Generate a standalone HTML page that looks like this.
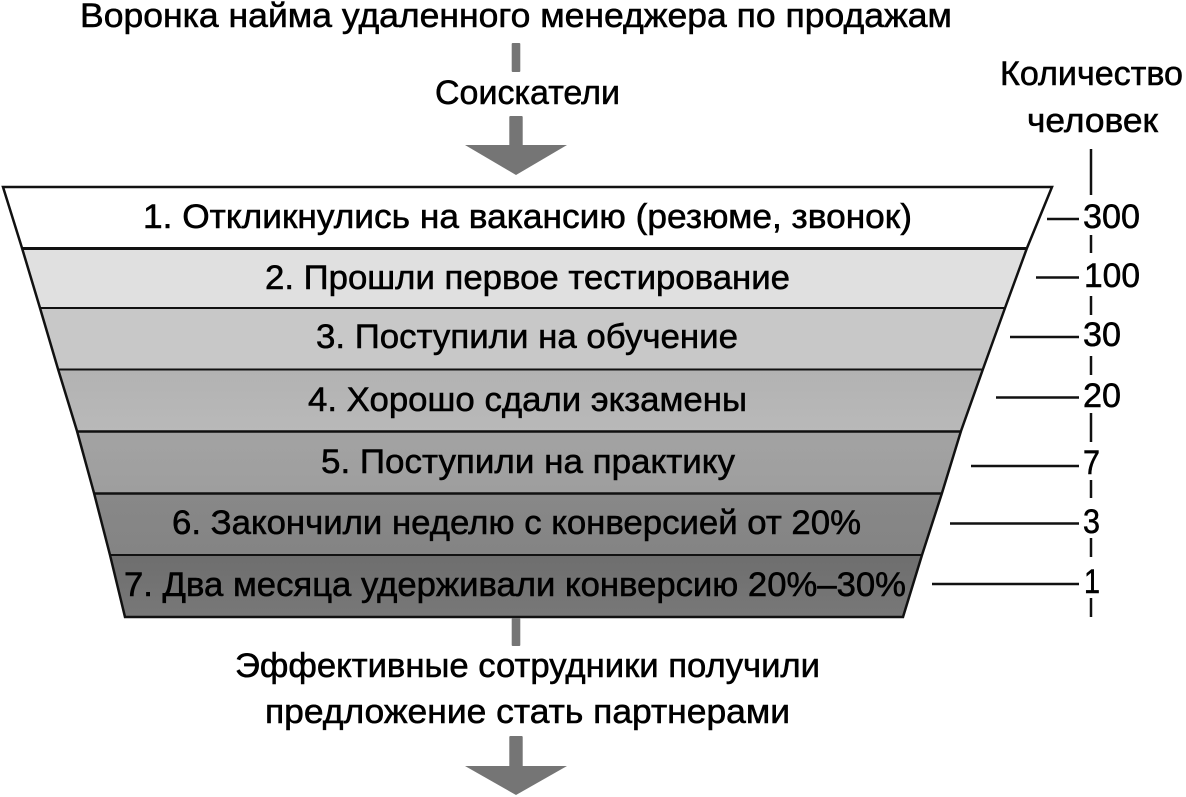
<!DOCTYPE html>
<html lang="ru">
<head>
<meta charset="utf-8">
<title>Воронка найма</title>
<style>
html,body{margin:0;padding:0;background:#fff;width:1186px;height:797px;overflow:hidden}
svg{display:block}
text{font-family:"Liberation Sans","DejaVu Sans",sans-serif;font-size:34px;fill:#000;stroke:#000;stroke-width:.55px}
</style>
</head>
<body>
<svg width="1186" height="797" viewBox="0 0 1186 797" xmlns="http://www.w3.org/2000/svg">
<defs>
<linearGradient id="g4" x1="0" y1="0" x2="0" y2="1"><stop offset="0" stop-color="#b2b2b2"/><stop offset="1" stop-color="#b9b9b9"/></linearGradient>
<linearGradient id="g5" x1="0" y1="0" x2="0" y2="1"><stop offset="0" stop-color="#a3a3a3"/><stop offset="1" stop-color="#9e9e9e"/></linearGradient>
<linearGradient id="g6" x1="0" y1="0" x2="0" y2="1"><stop offset="0" stop-color="#888888"/><stop offset="1" stop-color="#848484"/></linearGradient>
<linearGradient id="g7" x1="0" y1="0" x2="0" y2="1"><stop offset="0" stop-color="#6e6e6e"/><stop offset="1" stop-color="#787878"/></linearGradient>
</defs>

<!-- funnel rows -->
<polygon points="3,187 1052,187 1027,248 22,248" fill="#ffffff"/>
<polygon points="22,248 1027,248 1005,308 40,308" fill="#e0e0e0"/>
<polygon points="40,308 1005,308 983,369 58,369" fill="#c8c8c8"/>
<polygon points="58,369 983,369 961,431 77,431" fill="url(#g4)"/>
<polygon points="77,431 961,431 942,493 94,493" fill="url(#g5)"/>
<polygon points="94,493 942,493 922,555 110,555" fill="url(#g6)"/>
<polygon points="110,555 922,555 903,617 125,617" fill="url(#g7)"/>

<!-- row separators -->
<g stroke="#111" fill="none">
<line x1="22" y1="248.5" x2="1027" y2="248.5" stroke-width="3"/>
<line x1="40" y1="308" x2="1005" y2="308" stroke-width="2"/>
<line x1="58" y1="369.5" x2="983" y2="369.5" stroke-width="2"/>
<line x1="77" y1="431.5" x2="961" y2="431.5" stroke-width="2.5"/>
<line x1="94" y1="493.5" x2="942" y2="493.5" stroke-width="2.5"/>
<line x1="110" y1="555" x2="922" y2="555" stroke-width="2"/>
<polygon points="3,187 1052,187 1027,248 1005,308 983,369 961,431 942,493 922,555 903,617 125,617 110,555 94,493 77,431 58,369 40,308 22,248" stroke-width="2.5" stroke-linejoin="miter"/>
</g>

<!-- arrows -->
<g fill="#757575">
<rect x="511.7" y="43" width="8.6" height="29" rx="1"/>
<rect x="509.3" y="116" width="13.4" height="30" rx="1"/>
<polygon points="465,145 567,145 516,175"/>
<rect x="511.7" y="618" width="8.6" height="28" rx="1"/>
<rect x="509.3" y="736" width="13.4" height="31" rx="1"/>
<polygon points="465,766 567,766 516,795"/>
</g>

<!-- scale vertical dashes -->
<g stroke="#111" stroke-width="2.5" fill="none">
<line x1="1091" y1="149" x2="1091" y2="195"/>
<line x1="1091" y1="235" x2="1091" y2="253"/>
<line x1="1091" y1="296" x2="1091" y2="315"/>
<line x1="1091" y1="356" x2="1091" y2="375"/>
<line x1="1091" y1="413" x2="1091" y2="442"/>
<line x1="1091" y1="480" x2="1091" y2="498"/>
<line x1="1091" y1="538" x2="1091" y2="557"/>
<line x1="1091" y1="598" x2="1091" y2="617"/>
<!-- leaders -->
<line x1="1047" y1="219" x2="1079" y2="219"/>
<line x1="1036" y1="277.5" x2="1079" y2="277.5"/>
<line x1="1010" y1="337" x2="1079" y2="337"/>
<line x1="996" y1="397.5" x2="1079" y2="397.5"/>
<line x1="971" y1="466" x2="1079" y2="466"/>
<line x1="950" y1="523.5" x2="1079" y2="523.5"/>
<line x1="932" y1="584" x2="1079" y2="584"/>
</g>

<!-- text -->
<text x="80" y="27" textLength="872" lengthAdjust="spacingAndGlyphs">Воронка найма удаленного менеджера по продажам</text>
<text x="435" y="104" textLength="185" lengthAdjust="spacingAndGlyphs">Соискатели</text>
<text x="1000" y="85" textLength="183" lengthAdjust="spacingAndGlyphs">Количество</text>
<text x="1027" y="132" textLength="131" lengthAdjust="spacingAndGlyphs">человек</text>

<text x="143" y="228" textLength="769" lengthAdjust="spacingAndGlyphs">1. Откликнулись на вакансию (резюме, звонок)</text>
<text x="265" y="289" textLength="525" lengthAdjust="spacingAndGlyphs">2. Прошли первое тестирование</text>
<text x="316" y="348" textLength="422" lengthAdjust="spacingAndGlyphs">3. Поступили на обучение</text>
<text x="308" y="411" textLength="439" lengthAdjust="spacingAndGlyphs">4. Хорошо сдали экзамены</text>
<text x="321" y="473" textLength="414" lengthAdjust="spacingAndGlyphs">5. Поступили на практику</text>
<text x="172" y="534" textLength="689" lengthAdjust="spacingAndGlyphs">6. Закончили неделю с конверсией от 20%</text>
<text x="124" y="596" textLength="782" lengthAdjust="spacingAndGlyphs">7. Два месяца удерживали конверсию 20%–30%</text>

<text x="1083" y="228" textLength="57" lengthAdjust="spacingAndGlyphs">300</text>
<text x="1084" y="287" textLength="56" lengthAdjust="spacingAndGlyphs">100</text>
<text x="1083" y="346" textLength="38" lengthAdjust="spacingAndGlyphs">30</text>
<text x="1083" y="407" textLength="38" lengthAdjust="spacingAndGlyphs">20</text>
<text x="1083" y="474" textLength="17" lengthAdjust="spacingAndGlyphs">7</text>
<text x="1083" y="533" textLength="17" lengthAdjust="spacingAndGlyphs">3</text>
<text x="1084" y="593" textLength="16" lengthAdjust="spacingAndGlyphs">1</text>

<text x="235" y="677" textLength="585" lengthAdjust="spacingAndGlyphs">Эффективные сотрудники получили</text>
<text x="265" y="723" textLength="525" lengthAdjust="spacingAndGlyphs">предложение стать партнерами</text>
</svg>
</body>
</html>
